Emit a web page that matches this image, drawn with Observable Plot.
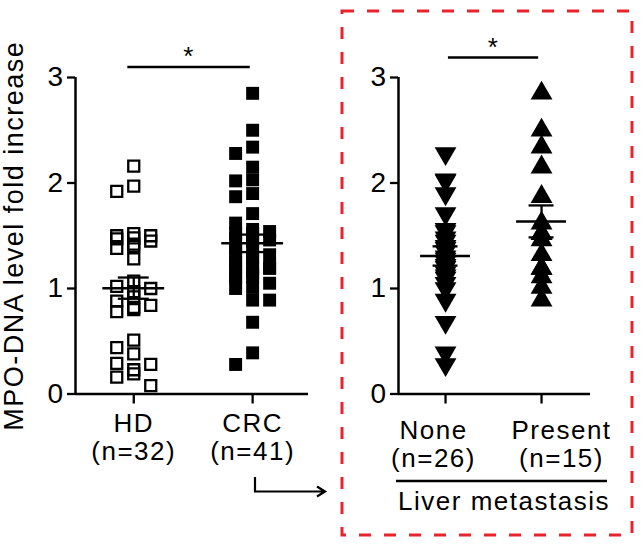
<!DOCTYPE html>
<html><head><meta charset="utf-8">
<script src="https://cdn.jsdelivr.net/npm/d3@7"></script>
<script src="https://cdn.jsdelivr.net/npm/@observablehq/plot@0.6"></script>
<style>
html,body{margin:0;padding:0;background:#fff;}
#wrap{position:relative;width:641px;height:547px;overflow:hidden;font-family:"Liberation Sans",Arial,sans-serif;}
#wrap > svg{position:absolute;top:0;}
</style></head><body><div id="wrap"></div>
<script>
// ---- data ----
const leftGroups = ["HD", "CRC"];
const leftLabels = ["HD\n(n=32)", "CRC\n(n=41)"];
const rightGroups = ["None", "Present"];
const rightLabels = ["None\n(n=26)", "Present\n(n=15)"];
const hd = [2.16, 1.97, 1.92, 1.52, 1.50, 1.50, 1.48, 1.47, 1.45, 1.42, 1.40, 1.38, 1.28,
  1.07, 1.02, 1.00, 0.97, 0.92, 0.88, 0.84, 0.82, 0.80, 0.78,
  0.51, 0.44, 0.38, 0.29, 0.28, 0.23, 0.19, 0.16, 0.08];
const none = [2.28, 2.03, 2.02, 1.90, 1.71, 1.56, 1.54, 1.48, 1.45, 1.40, 1.38, 1.35, 1.30,
  1.28, 1.25, 1.22, 1.20, 1.15, 1.12, 1.10, 1.05, 1.00, 0.89, 0.68, 0.39, 0.28];
const present = [2.85, 2.50, 2.34, 2.15, 1.87, 1.62, 1.52, 1.52, 1.46, 1.32, 1.19, 1.19, 1.11, 1.01, 0.89];
const crc = none.concat(present); // CRC = all patients (None + Present)
const yTicks = [0, 1, 2, 3];
const yLabel = "MPO-DNA level fold increase";
const sigLeft = [{x1: 0, x2: 1, y: 3.1, label: "*"}];
const sigRight = [{x1: 0, x2: 1, y: 3.19, label: "*"}];
const groupTitle = "Liver metastasis";

// ---- layout ----
const H = 547, MT = 77, MB = 153.5;
const L = {left: 0, width: 330, ml: 75, mr: 22, dom: [-0.49, 1.47]};
const R = {left: 330, width: 290, ml: 68, mr: 30, dom: [-0.49, 1.51]};
const pxY = (H - MT - MB) / 3;
const font = "'Liberation Sans', Arial, sans-serif";

function swarm(values, pxX, {step, minDx, minDy, maxK}) {
  const order = d3.range(values.length).sort((a, b) => values[b] - values[a]);
  const cands = [0];
  for (let k = 1; k <= maxK; k++) cands.push(-k * step, k * step);
  const placed = [], off = new Array(values.length);
  for (const i of order) {
    const y = values[i] * pxY;
    let best = 0, bestC = Infinity;
    for (const c of cands) {
      let n = 0;
      for (const p of placed) if (Math.abs(p.x - c) < minDx && Math.abs(p.y - y) < minDy) n++;
      if (n < bestC) { bestC = n; best = c; }
      if (n === 0) break;
    }
    placed.push({x: best, y});
    off[i] = best / pxX;
  }
  return off;
}

function points(values, gi, pxX, opts) {
  const off = swarm(values, pxX, opts);
  return values.map((v, j) => ({x: gi + off[j], v}));
}
function stats(values, gi) {
  const m = d3.mean(values), s = d3.deviation(values) / Math.sqrt(values.length);
  return {i: gi, mean: m, lo: m - s, hi: m + s};
}

function errMarks(st) {
  return [
    Plot.ruleX(st, {x: "i", y1: "lo", y2: "hi", strokeWidth: 2.3}),
    Plot.ruleY(st, {y: "mean", x1: d => d.i - 0.26, x2: d => d.i + 0.26, strokeWidth: 2.5}),
    Plot.ruleY(st, {y: "lo", x1: d => d.i - 0.13, x2: d => d.i + 0.13, strokeWidth: 2.3}),
    Plot.ruleY(st, {y: "hi", x1: d => d.i - 0.13, x2: d => d.i + 0.13, strokeWidth: 2.3})
  ];
}
function sigMarks(sig, inset1, inset2) {
  return [
    Plot.ruleY(sig, {y: "y", x1: d => d.x1 + inset1, x2: d => d.x2 + inset2, strokeWidth: 2.5}),
    Plot.text(sig, {x: d => (d.x1 + d.x2) / 2 + (inset1 + inset2) / 2, y: "y", text: "label", fontSize: 26, dy: -10})
  ];
}

// ---- left panel ----
const pxXL = (L.width - L.ml - L.mr) / (L.dom[1] - L.dom[0]);
const hdPts = points(hd, 0, pxXL, {step: 8.5, minDx: 13, minDy: 12, maxK: 2});
const crcPts = points(crc, 1, pxXL, {step: 8.5, minDx: 13, minDy: 12, maxK: 2});
const left = Plot.plot({
  width: L.width, height: H,
  marginLeft: L.ml, marginRight: L.mr, marginTop: MT, marginBottom: MB,
  style: `font-family:${font};letter-spacing:1.5px;left:${L.left}px;overflow:visible;background:transparent;`,
  x: {domain: L.dom},
  y: {domain: [0, 3]},
  marks: [
    Plot.axisY({ticks: yTicks, tickFormat: d => d, tickSize: 8, tickPadding: 3, fontSize: 28, strokeWidth: 2.3, label: null}),
    Plot.axisX({ticks: [0, 1], tickFormat: i => leftLabels[i], tickSize: 10, tickPadding: 9, fontSize: 26, lineHeight: 1.05, strokeWidth: 2.3, label: null}),
    Plot.ruleX([L.dom[0]], {y1: 0, y2: 3, strokeWidth: 2.5}),
    Plot.ruleY([0], {strokeWidth: 2.5}),
    Plot.text([yLabel], {frameAnchor: "left", textAnchor: "middle", lineAnchor: "middle", rotate: -90, dx: -61, fontSize: 27}),
    Plot.dot(hdPts, {x: "x", y: "v", symbol: "square", r: 6.2, fill: "none", stroke: "black", strokeWidth: 2.3}),
    Plot.dot(crcPts, {x: "x", y: "v", symbol: "square", r: 7.3, fill: "black"}),
    ...errMarks([stats(hd, 0), stats(crc, 1)]),
    ...sigMarks(sigLeft, -0.05, -0.02)
  ]
});

// ---- right panel ----
const pxXR = (R.width - R.ml - R.mr) / (R.dom[1] - R.dom[0]);
const nonePts = points(none, 0, pxXR, {step: 12, minDx: 18, minDy: 14, maxK: 1});
const presPts = points(present, 1, pxXR, {step: 11, minDx: 18, minDy: 14, maxK: 1});
const right = Plot.plot({
  width: R.width, height: H,
  marginLeft: R.ml, marginRight: R.mr, marginTop: MT, marginBottom: MB,
  style: `font-family:${font};letter-spacing:1.5px;left:${R.left}px;overflow:visible;background:transparent;`,
  x: {domain: R.dom},
  y: {domain: [0, 3]},
  marks: [
    Plot.axisY({ticks: yTicks, tickFormat: d => d, tickSize: 8, tickPadding: 3, fontSize: 28, strokeWidth: 2.3, label: null}),
    Plot.axisX({ticks: [0, 1], tickFormat: () => "", tickSize: 10, strokeWidth: 2.3, label: null}),
    Plot.text([rightLabels[0]], {x: 0, frameAnchor: "bottom", lineAnchor: "top", dy: 26, dx: -12, fontSize: 26, lineHeight: 1.05}),
    Plot.text([rightLabels[1]], {x: 1, frameAnchor: "bottom", lineAnchor: "top", dy: 26, dx: 20, fontSize: 26, lineHeight: 1.05}),
    Plot.ruleX([R.dom[0]], {y1: 0, y2: 3, strokeWidth: 2.5}),
    Plot.ruleY([0], {strokeWidth: 2.5}),
    Plot.dot(nonePts, {x: "x", y: "v", symbol: "triangle", rotate: 180, r: 8.1, fill: "black"}),
    Plot.dot(presPts, {x: "x", y: "v", symbol: "triangle", r: 8.1, fill: "black"}),
    ...errMarks([stats(none, 0), stats(present, 1)]),
    ...sigMarks(sigRight, 0.03, -0.03)
  ]
});

const wrap = document.getElementById("wrap");
wrap.appendChild(left);
wrap.appendChild(right);

// ---- overlay: dashed box, arrow, group label ----
const ov = d3.create("svg").attr("width", 641).attr("height", 547)
  .style("left", "0px").style("pointer-events", "none");
ov.append("rect").attr("x", 342).attr("y", 11).attr("width", 290).attr("height", 524)
  .attr("fill", "none").attr("stroke", "#e8232b").attr("stroke-width", 3).attr("stroke-dasharray", "12 13");
ov.append("path").attr("d", "M255,477V491.5H325M317,486.5L325,491.5L317,496.5")
  .attr("fill", "none").attr("stroke", "black").attr("stroke-width", 2.2);
ov.append("line").attr("x1", 396).attr("x2", 607).attr("y1", 481).attr("y2", 481)
  .attr("stroke", "black").attr("stroke-width", 2.5);
ov.append("text").attr("x", 504).attr("y", 510).attr("text-anchor", "middle")
  .attr("font-family", "Liberation Sans, Arial, sans-serif").attr("font-size", 26)
  .style("letter-spacing", "1.5px").text(groupTitle);
wrap.appendChild(ov.node());
</script></body></html>
